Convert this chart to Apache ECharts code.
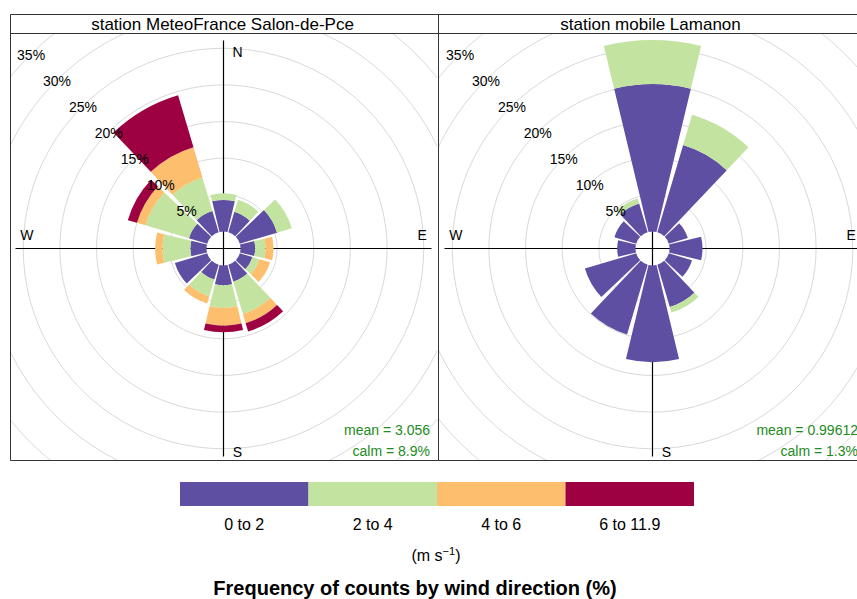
<!DOCTYPE html>
<html>
<head>
<meta charset="utf-8">
<script src="https://cdn.jsdelivr.net/npm/echarts@6/dist/echarts.min.js"></script>
<style>
  html, body { margin: 0; padding: 0; background: #fff; }
  #page { position: relative; width: 857px; height: 599px; overflow: hidden; }
  #base { position: absolute; left: 0; top: 0; width: 857px; height: 599px; }
  .panel { position: absolute; top: 34px; height: 426px; overflow: hidden; }
  #p1 { left: 11px; width: 426px; }
  #p2 { left: 439px; width: 418px; }
</style>
</head>
<body>
<div id="page">
  <div id="base"></div>
  <div id="p1" class="panel"></div>
  <div id="p2" class="panel"></div>
</div>
<script>
// Direction sectors, degrees clockwise from north
const directions = [0, 30, 60, 90, 120, 150, 180, 210, 240, 270, 300, 330];
const compassLabels = ['N', 'E', 'S', 'W'];

// Wind speed classes (m/s) and their colours
const speedBins = ['0 to 2', '2 to 4', '4 to 6', '6 to 11.9'];
const binColors = ['#5E4FA2', '#C2E4A0', '#FDBE6E', '#9E0142'];

// Frequency (%) by sector, MeteoFrance Salon-de-Pce
const salonBin1 = [4.3, 2.9, 5.3, 2.0, 1.8, 2.4, 2.7, 2.1, 4.6, 2.2, 2.6, 3.0];
const salonBin2 = [0.9, 1.7, 2.1, 1.4, 1.0, 4.6, 3.1, 2.4, 0.0, 3.8, 6.2, 4.8];
const salonBin3 = [0.0, 0.0, 0.0, 1.1, 1.5, 1.3, 2.4, 1.0, 0.0, 1.0, 1.2, 4.3];
const salonBin4 = [0.0, 0.0, 0.0, 0.0, 0.0, 1.2, 0.9, 0.0, 0.0, 0.0, 1.3, 7.4];

// Frequency (%) by sector, mobile station Lamanon
const lamanonBin1 = [20.1, 12.4, 2.7, 4.5, 3.3, 6.0, 13.2, 9.9, 7.3, 2.5, 3.1, 4.1];
const lamanonBin2 = [6.0, 4.3, 0.0, 0.0, 0.0, 0.8, 0.0, 0.0, 0.0, 0.0, 0.0, 0.7];
const lamanonBin3 = [0, 0, 0, 0, 0, 0, 0, 0, 0, 0, 0, 0];
const lamanonBin4 = [0, 0, 0, 0, 0, 0, 0, 0, 0, 0, 0, 0];

// Summary statistics printed in each panel
const salonStats = ['mean = 3.056', 'calm = 8.9%'];
const lamanonStats = ['mean = 0.99612', 'calm = 1.3%'];

// Radial scale (%)
const radialMax = 40;
const radialStep = 5;

// Geometry of the rose
const HOLE = 17;          // radius of the empty centre, px
const PX_PER_PCT = 7.33;  // px per percent
const CROSS_R = 208;      // length of the compass cross arms, px
const OUTER = HOLE + PX_PER_PCT * radialMax;

const FONT = 'Liberation Sans, Arial, sans-serif';

// The angle axis starts at NW, so the sector list begins with 330°
function rotateFromNW(arr) {
  return arr.slice(11).concat(arr.slice(0, 11));
}

function roseOption(center, bins, stats) {
  const catData = rotateFromNW(directions).map(String);
  const gridColors = ['rgba(0,0,0,0)'];
  for (let v = radialStep; v <= radialMax; v += radialStep) gridColors.push('#d9d9d9');

  return {
    animation: false,
    polar: [
      { center: center, radius: [HOLE, OUTER] },
      { center: center, radius: [0, CROSS_R] },
      { center: center, radius: [HOLE, OUTER] }
    ],
    angleAxis: [
      {
        polarIndex: 0, type: 'category', data: catData, startAngle: 135, clockwise: true,
        boundaryGap: true, z: 0,
        axisLine: { show: false }, axisTick: { show: false },
        axisLabel: { show: false }, splitLine: { show: false }
      },
      {
        polarIndex: 1, type: 'value', min: 0, max: 360, interval: 90, startAngle: 90, clockwise: true,
        z: 1,
        axisLine: { show: false }, axisTick: { show: false },
        splitLine: { show: true, lineStyle: { color: '#000', width: 1.2 } },
        axisLabel: {
          show: true, margin: -18, fontFamily: FONT, fontSize: 14, color: '#000',
          formatter: function (v) {
            const i = Math.round(v / 90);
            return i < compassLabels.length ? '{c' + i + '|' + compassLabels[i] + '}' : '';
          },
          rich: {
            c0: { fontFamily: FONT, fontSize: 14, color: '#000', padding: [0, 0, 0, 28] },
            c1: { fontFamily: FONT, fontSize: 14, color: '#000', padding: [0, 0, 28, 4] },
            c2: { fontFamily: FONT, fontSize: 14, color: '#000', padding: [6, 0, 0, 28] },
            c3: { fontFamily: FONT, fontSize: 14, color: '#000', padding: [0, 0, 28, 0] }
          }
        }
      },
      {
        polarIndex: 2, type: 'value', min: 0, max: 360, startAngle: 135, clockwise: true, show: false
      }
    ],
    radiusAxis: [
      {
        polarIndex: 0, type: 'value', min: 0, max: radialMax, interval: radialStep, z: 0,
        axisLine: { show: false }, axisTick: { show: false }, axisLabel: { show: false },
        splitLine: { show: true, lineStyle: { color: gridColors, width: 1 } }
      },
      { polarIndex: 1, type: 'value', min: 0, max: 1, show: false },
      {
        polarIndex: 2, type: 'value', min: 0, max: radialMax, interval: radialStep, z: 5,
        axisLine: { show: false }, axisTick: { show: false }, splitLine: { show: false },
        axisLabel: {
          show: true, margin: 0, align: 'center', verticalAlign: 'middle',
          fontFamily: FONT, fontSize: 14, color: '#000', padding: [4, 0, 0, 2],
          formatter: function (v) { return v === 0 ? '' : v + '%'; }
        }
      }
    ],
    series: bins.map(function (vals, k) {
      return {
        type: 'bar', name: speedBins[k], coordinateSystem: 'polar', polarIndex: 0,
        stack: 'speed', barWidth: '90%', silent: true, z: 2,
        itemStyle: { color: binColors[k] },
        data: rotateFromNW(vals)
      };
    }),
    graphic: stats.map(function (s, i) {
      return {
        type: 'text', x: 419, y: 396 + i * 21, z: 10,
        style: { text: s, fill: '#228B22', font: '14px ' + FONT, textAlign: 'right', textVerticalAlign: 'middle' }
      };
    })
  };
}

// Panels
const chart1 = echarts.init(document.getElementById('p1'), null, { renderer: 'svg' });
chart1.setOption(roseOption([212.5, 214.5], [salonBin1, salonBin2, salonBin3, salonBin4], salonStats));

const chart2 = echarts.init(document.getElementById('p2'), null, { renderer: 'svg' });
chart2.setOption(roseOption([213.5, 214.5], [lamanonBin1, lamanonBin2, lamanonBin3, lamanonBin4], lamanonStats));

// Frame, strip titles and colour key
const panelTitles = ['station MeteoFrance Salon-de-Pce', 'station mobile Lamanon'];
const keyLeft = 180, keyWidth = 514, keyTop = 482, keyHeight = 24;
const segW = keyWidth / speedBins.length;

const frame = [];
[10.5, 438.5].forEach(function (x0, i) {
  frame.push({ type: 'rect', shape: { x: x0, y: 14.5, width: 428, height: 446 }, style: { fill: 'none', stroke: '#333', lineWidth: 1 } });
  frame.push({ type: 'line', shape: { x1: x0, y1: 33.5, x2: x0 + 428, y2: 33.5 }, style: { stroke: '#333', lineWidth: 1 } });
  frame.push({ type: 'text', x: x0 + 212, y: 24, style: { text: panelTitles[i], fill: '#000', font: '17px ' + FONT, textAlign: 'center', textVerticalAlign: 'middle' } });
});
speedBins.forEach(function (label, i) {
  frame.push({ type: 'rect', shape: { x: keyLeft + i * segW, y: keyTop, width: segW, height: keyHeight }, style: { fill: binColors[i] } });
  frame.push({ type: 'text', x: keyLeft + (i + 0.5) * segW, y: 524, style: { text: label, fill: '#000', font: '16px ' + FONT, textAlign: 'center', textVerticalAlign: 'middle' } });
});
frame.push({
  type: 'text', x: keyLeft + keyWidth / 2 - 1, y: 555,
  style: {
    text: '{u|(m s}{s|\u22121}{u|)}', textAlign: 'center', textVerticalAlign: 'middle',
    rich: {
      u: { fontFamily: FONT, fontSize: 16, fill: '#000', color: '#000' },
      s: { fontFamily: FONT, fontSize: 11, fill: '#000', color: '#000', padding: [0, 0, 9, 0] }
    }
  }
});
frame.push({
  type: 'text', x: 415, y: 588,
  style: { text: 'Frequency of counts by wind direction (%)', fill: '#000', font: 'bold 20px ' + FONT, textAlign: 'center', textVerticalAlign: 'middle' }
});

const base = echarts.init(document.getElementById('base'), null, { renderer: 'svg' });
base.setOption({ animation: false, graphic: frame });
</script>
</body>
</html>
